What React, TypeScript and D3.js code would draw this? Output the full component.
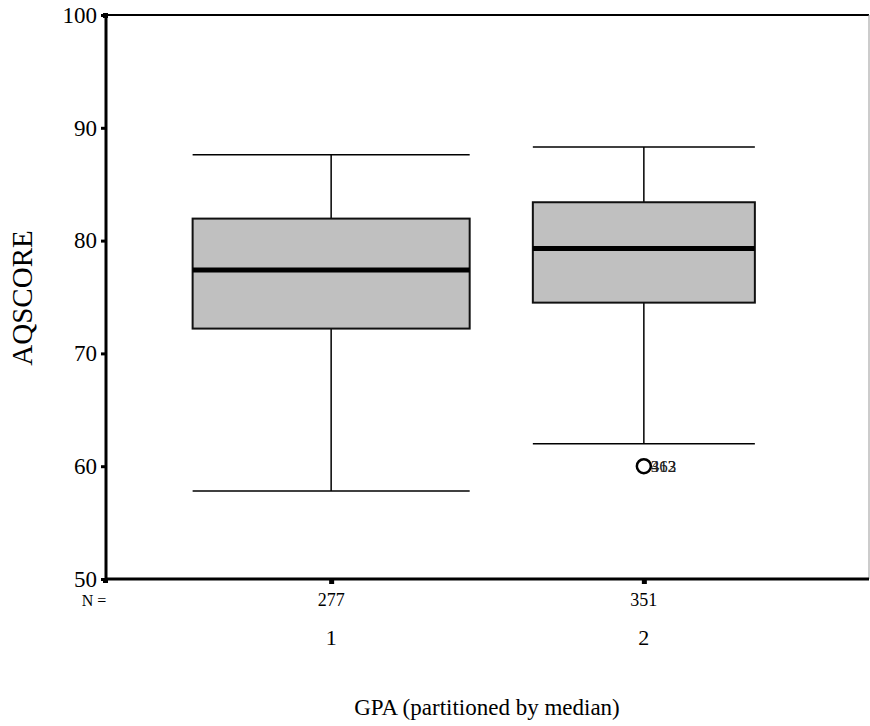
import React, {useEffect, useRef} from 'react'
import * as d3 from 'd3'

// chart values
const categories = [1, 2];
const counts = [277, 351];
const lowerWhisker = [57.8, 62.0];
const q1 = [72.2, 74.5];
const medians = [77.4, 79.3];
const q3 = [81.95, 83.4];
const upperWhisker = [87.6, 88.3];
const outliers = [{cat: 2, value: 60.0, labels: ['363', '412']}];
const yTicks = [50, 60, 70, 80, 90, 100];

const App = () => {
  const ref = useRef(null);

  useEffect(() => {
    const W = 870, H = 726;
    const left = 106, right = 869, top = 15, bottom = 579;
    const font = '"Liberation Serif", "Times New Roman", serif';

    const svg = d3.select(ref.current)
      .append('svg')
      .attr('width', W)
      .attr('height', H)
      .style('position', 'absolute')
      .style('left', 0)
      .style('top', 0)
      .style('font-family', font);

    const x = d3.scaleLinear().domain([0.28, 2.72]).range([left, right]);
    const y = d3.scaleLinear().domain([50, 100]).range([bottom, top]);

    // box half widths in category units
    const halfW = [0.443, 0.355];

    // frame: top and right thin lines
    svg.append('line')
      .attr('x1', left).attr('x2', right).attr('y1', top).attr('y2', top)
      .attr('stroke', '#000').attr('stroke-width', 2);
    svg.append('line')
      .attr('x1', right).attr('x2', right).attr('y1', top).attr('y2', bottom)
      .attr('stroke', '#999').attr('stroke-width', 1);

    // boxes
    categories.forEach((c, i) => {
      const cx = x(c);
      const x0 = x(c - halfW[i]);
      const x1 = x(c + halfW[i]);
      const g = svg.append('g');
      g.append('line')
        .attr('x1', cx).attr('x2', cx)
        .attr('y1', y(upperWhisker[i])).attr('y2', y(lowerWhisker[i]))
        .attr('stroke', '#000').attr('stroke-width', 1.5);
      [upperWhisker[i], lowerWhisker[i]].forEach(v => {
        g.append('line')
          .attr('x1', x0).attr('x2', x1)
          .attr('y1', y(v)).attr('y2', y(v))
          .attr('stroke', '#000').attr('stroke-width', 1.5);
      });
      g.append('rect')
        .attr('x', x0).attr('y', y(q3[i]))
        .attr('width', x1 - x0).attr('height', y(q1[i]) - y(q3[i]))
        .attr('fill', '#c0c0c0')
        .attr('stroke', '#111').attr('stroke-width', 2);
      g.append('line')
        .attr('x1', x0).attr('x2', x1)
        .attr('y1', y(medians[i])).attr('y2', y(medians[i]))
        .attr('stroke', '#000').attr('stroke-width', 5);
    });

    // outliers
    outliers.forEach(o => {
      svg.append('circle')
        .attr('cx', x(o.cat)).attr('cy', y(o.value)).attr('r', 7)
        .attr('fill', 'none').attr('stroke', '#000').attr('stroke-width', 2.5);
      o.labels.forEach(l => {
        svg.append('text')
          .attr('x', x(o.cat) + 7).attr('y', y(o.value) + 6)
          .attr('font-size', 17).attr('fill', '#222')
          .text(l);
      });
    });

    // y axis
    const yAxis = d3.axisLeft(y).tickValues(yTicks).tickSize(5).tickPadding(4);
    const ya = svg.append('g')
      .attr('transform', `translate(${left},0)`)
      .call(yAxis);
    ya.select('.domain').attr('stroke-width', 3).attr('d', `M0,${top}V${bottom}`);
    ya.selectAll('.tick line').attr('stroke-width', 3);
    ya.selectAll('.tick text').attr('font-size', 23).attr('font-family', font).attr('fill', '#000');

    // x axis
    const xAxis = d3.axisBottom(x).tickValues(categories).tickSize(5).tickFormat(() => '');
    const xa = svg.append('g')
      .attr('transform', `translate(0,${bottom})`)
      .call(xAxis);
    xa.select('.domain').attr('stroke-width', 3).attr('d', `M${left},0H${right}`);
    xa.selectAll('.tick line').attr('stroke-width', 5);

    // corner squares
    svg.append('rect')
      .attr('x', left - 3).attr('y', bottom - 1).attr('width', 5).attr('height', 5)
      .attr('fill', '#000');
    svg.append('rect')
      .attr('x', left - 3).attr('y', top - 2).attr('width', 5).attr('height', 5)
      .attr('fill', '#000');

    // N row
    svg.append('text')
      .attr('x', 94).attr('y', 606).attr('text-anchor', 'middle')
      .attr('font-size', 16).text('N =');
    categories.forEach((c, i) => {
      svg.append('text')
        .attr('x', x(c)).attr('y', 606).attr('text-anchor', 'middle')
        .attr('font-size', 18).text(counts[i]);
      svg.append('text')
        .attr('x', x(c)).attr('y', 645).attr('text-anchor', 'middle')
        .attr('font-size', 22).text(c);
    });

    // titles
    svg.append('text')
      .attr('x', 487).attr('y', 715).attr('text-anchor', 'middle')
      .attr('font-size', 23).text('GPA (partitioned by median)');
    svg.append('text')
      .attr('transform', 'translate(32,298) rotate(-90)')
      .attr('text-anchor', 'middle')
      .attr('font-size', 29).text('AQSCORE');

    return () => {
      d3.select(ref.current).select('svg').remove();
    }
  }, [])

  return (
    <div ref={ref}></div>
  )
}

export default App
